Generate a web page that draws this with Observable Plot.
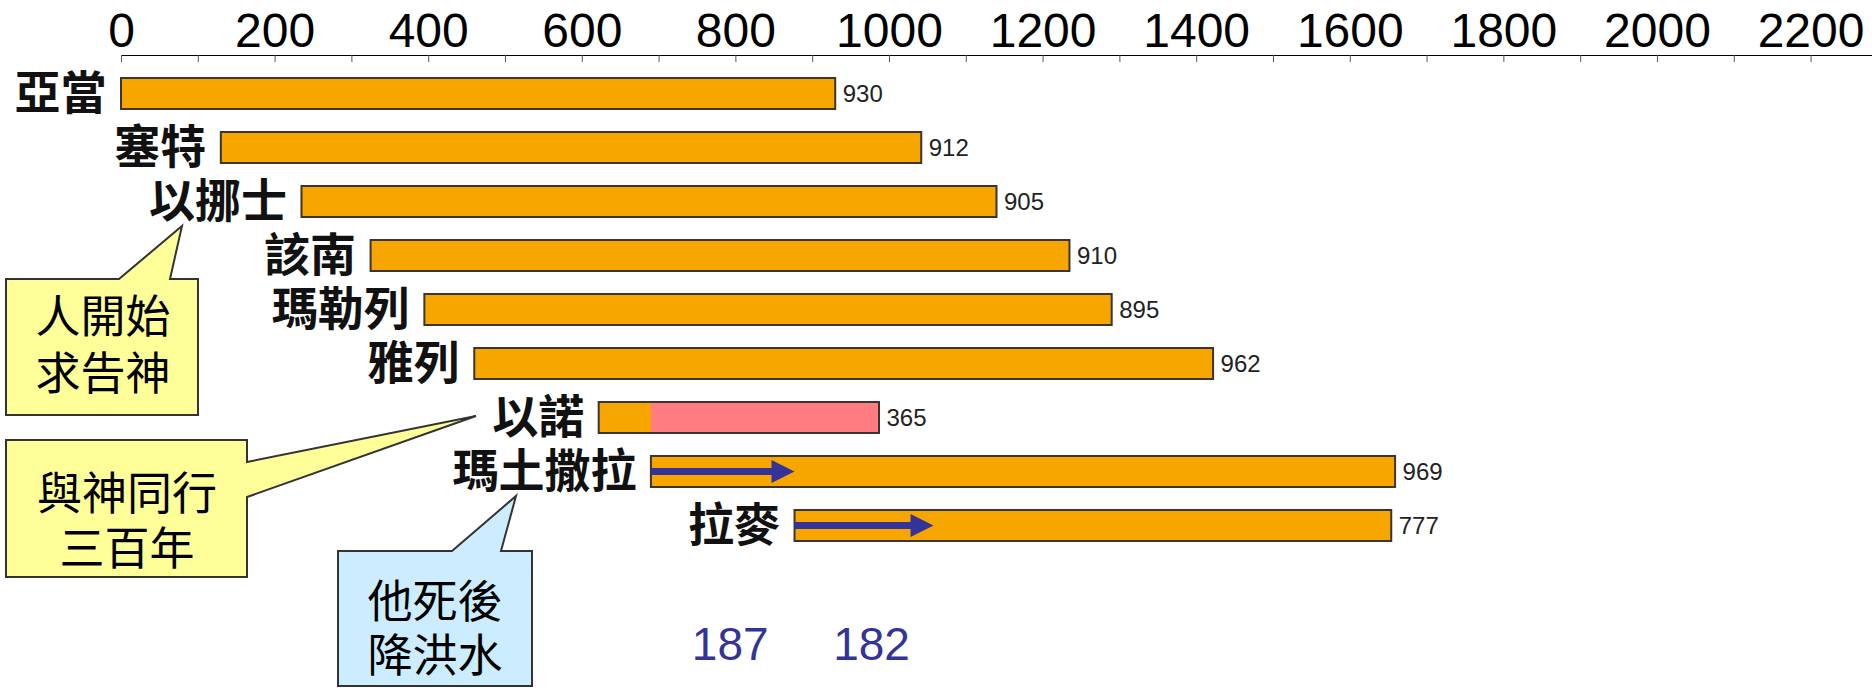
<!DOCTYPE html>
<html>
<head>
<meta charset="utf-8">
<script src="https://cdn.jsdelivr.net/npm/d3@7"></script>
<script src="https://cdn.jsdelivr.net/npm/@observablehq/plot@0.6"></script>
<style>
  html, body { margin: 0; padding: 0; background: #fff; }
  #chart { width: 1872px; height: 688px; overflow: hidden; }
</style>
</head>
<body>
<div id="chart"></div>
<script>
// ---- data ----
const names = ["亞當", "塞特", "以挪士", "該南", "瑪勒列", "雅列", "以諾", "瑪土撒拉", "拉麥"];
const births = [0, 130, 235, 325, 395, 460, 622, 690, 877];
const lifespans = [930, 912, 905, 910, 895, 962, 365, 969, 777];

const tickLabels = [0, 200, 400, 600, 800, 1000, 1200, 1400, 1600, 1800, 2000, 2200];
const minorTicks = [0, 100, 200, 300, 400, 500, 600, 700, 800, 900, 1000, 1100,
                    1200, 1300, 1400, 1500, 1600, 1700, 1800, 1900, 2000, 2100, 2200];

const walkNames = ["以諾"];
const walkStarts = [690];

const arrowNames = ["瑪土撒拉", "拉麥"];
const arrowFrom = [690, 877];
const arrowTo = [877, 1058];
const arrowLabels = ["187", "182"];

const calloutLines = [["人開始", "求告神"], ["與神同行", "三百年"], ["他死後", "降洪水"]];

// ---- tables ----
const rows = names.map((name, i) => ({name, birth: births[i], death: births[i] + lifespans[i], life: lifespans[i]}));
const walks = walkNames.map((name, i) => ({name, start: walkStarts[i], end: rows.find(r => r.name === name).death}));
const arrows = arrowNames.map((name, i) => ({name, from: arrowFrom[i], to: arrowTo[i], label: arrowLabels[i]}));

const ORANGE = "#F7A600", PINK = "#FF7C80", NAVY = "#333399", EDGE = "#3a3530";
const CJK = "'Noto Sans CJK TC', 'Noto Sans CJK SC', sans-serif";
const SANS = "'Liberation Sans', Arial, sans-serif";

const plot = Plot.plot({
  width: 1872,
  height: 688,
  marginTop: 55,
  marginBottom: 125,
  marginLeft: 121,
  marginRight: 0,
  style: {fontFamily: "'Liberation Sans Narrow', 'Arial Narrow', 'Liberation Sans', sans-serif", fontSize: "48px", background: "#fff", color: "#000"},
  x: {domain: [0, 2280], axis: "top", ticks: tickLabels, tickFormat: d => String(d), tickSize: 0, tickPadding: 9, line: true, label: null},
  y: {domain: names, axis: null, paddingInner: 0.426, paddingOuter: 0.4167},
  marks: [
    Plot.tickX(minorTicks, {x: d => d, insetBottom: 501, stroke: "#555", strokeWidth: 1}),
    Plot.barX(rows, {x1: "birth", x2: "death", y: "name", fill: ORANGE}),
    Plot.barX(walks, {x1: "start", x2: "end", y: "name", fill: PINK}),
    Plot.barX(rows, {x1: "birth", x2: "death", y: "name", fill: "none", stroke: EDGE, strokeWidth: 2}),
    Plot.text(rows, {x: "death", y: "name", text: d => String(d.life), textAnchor: "start", dx: 7,
                     fontSize: 24, fill: "#222", fontFamily: SANS}),
    Plot.text(rows, {x: "birth", y: "name", text: "name", textAnchor: "end", dx: -15,
                     fontSize: 46, fontWeight: "bold", fill: "#111", fontFamily: CJK}),
    Plot.text(arrows, {x: d => (d.from + d.to) / 2, text: "label", frameAnchor: "bottom", dy: 96, dx: 7,
                       fontSize: 46, fill: NAVY, fontFamily: SANS})
  ]
});

document.getElementById("chart").appendChild(plot);

// ---- arrows and callouts drawn through the plot's scales ----
const xs = plot.scale("x"), ys = plot.scale("y");
const svg = d3.select(plot);
const gA = svg.append("g").attr("class", "arrows");
for (const a of arrows) {
  const cy = ys.apply(a.name) + ys.bandwidth / 2;
  const x1 = xs.apply(a.from), x2 = xs.apply(a.to);
  const hl = 23, hh = 11.5, sh = 3.5;
  gA.append("path")
    .attr("d", `M${x1},${cy - sh}L${x2 - hl},${cy - sh}L${x2 - hl},${cy - hh}L${x2},${cy}L${x2 - hl},${cy + hh}L${x2 - hl},${cy + sh}L${x1},${cy + sh}Z`)
    .attr("fill", NAVY);
}

// callout shapes (pixel layout of the annotation boxes)
const callouts = [
  {lines: calloutLines[0], fill: "#FFFF99", cx: 103, cy: [313, 370],
   pts: [[6, 279], [119, 279], [182, 226], [170, 279], [198, 279], [198, 415], [6, 415]]},
  {lines: calloutLines[1], fill: "#FFFF99", cx: 127, cy: [490, 545],
   pts: [[6, 440], [247, 440], [247, 462], [476, 416], [247, 497], [247, 577], [6, 577]]},
  {lines: calloutLines[2], fill: "#CCECFF", cx: 435, cy: [598, 652],
   pts: [[338, 551], [452, 551], [516, 496], [501, 551], [532, 551], [532, 686], [338, 686]]}
];
const gC = svg.append("g").attr("class", "callouts");
for (const c of callouts) {
  gC.append("path")
    .attr("d", "M" + c.pts.map(p => p.join(",")).join("L") + "Z")
    .attr("fill", c.fill).attr("stroke", "#333").attr("stroke-width", 2).attr("stroke-linejoin", "miter");
  c.lines.forEach((t, i) => {
    gC.append("text").attr("x", c.cx).attr("y", c.cy[i])
      .attr("text-anchor", "middle").attr("dominant-baseline", "central")
      .attr("font-family", CJK).attr("font-size", 45).attr("fill", "#000").text(t);
  });
}
</script>
</body>
</html>
